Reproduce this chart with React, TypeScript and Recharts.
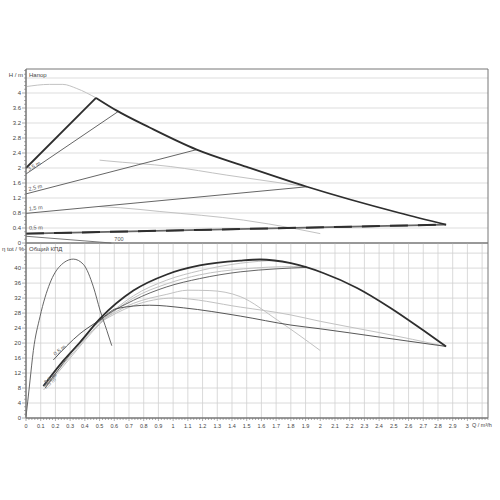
import React from "react";
import {
  ComposedChart,
  Line,
  XAxis,
  YAxis,
  CartesianGrid,
  ReferenceArea,
} from "recharts";

// flow axis, m³/h
const Q_MAX = 3.14;
const qLabelTicks = [
  0, 0.1, 0.2, 0.3, 0.4, 0.5, 0.6, 0.7, 0.8, 0.9, 1, 1.1, 1.2, 1.3, 1.4, 1.5,
  1.6, 1.7, 1.8, 1.9, 2, 2.1, 2.2, 2.3, 2.4, 2.5, 2.6, 2.7, 2.8, 2.9, 3,
];
const qGridLines = qLabelTicks.slice(1).concat([3.1]);

// head axis, m
const H_MAX = 4.64;
const hLabelTicks = [0, 0.4, 0.8, 1.2, 1.6, 2, 2.4, 2.8, 3.2, 3.6, 4];
const hGridLines = [0.4, 0.8, 1.2, 1.6, 2, 2.4, 2.8, 3.2, 3.6, 4, 4.4];

// efficiency axis, %
const E_MAX = 46.7;
const eLabelTicks = [0, 4, 8, 12, 16, 20, 24, 28, 32, 36, 40];
const eGridLines = [4, 8, 12, 16, 20, 24, 28, 32, 36, 40, 44];

// ---- head curves ----
const maxRiseQ = [0, 0.476];
const maxRiseH = [2.0, 3.87];
const maxFallQ = [0.476, 0.617, 0.84, 1.16, 1.5, 1.91, 2.54, 2.855];
const maxFallH = [3.87, 3.53, 3.08, 2.49, 2.03, 1.5, 0.8, 0.49];
const topGrayQ = [0, 0.16, 0.25, 0.345, 0.476];
const topGrayH = [4.17, 4.23, 4.23, 4.12, 3.87];
const dp35Q = [0, 0.628];
const dp35H = [1.84, 3.51];
const dp25Q = [0, 1.16];
const dp25H = [1.31, 2.49];
const dp15Q = [0, 1.91];
const dp15H = [0.79, 1.5];
const dp05Q = [0, 2.855];
const dp05H = [0.25, 0.49];
const grayBQ = [0.5, 0.55, 0.98, 1.365, 1.91];
const grayBH = [2.21, 2.19, 2.04, 1.81, 1.5];
const grayCQ = [0.5, 0.64, 0.91, 1.48, 1.82, 2.0];
const grayCH = [0.97, 0.94, 0.84, 0.61, 0.39, 0.25];
const powerQ = [0, 0.58];
const powerH = [0.18, 0];

// ---- efficiency curves ----
const peakEffQ = [0, 0.012, 0.027, 0.05, 0.095, 0.163, 0.23, 0.322, 0.39, 0.458, 0.503, 0.549, 0.583];
const peakEffE = [0.4, 4.5, 9.9, 18, 27, 36, 40.5, 42.4, 41, 35, 28.8, 23.4, 19.3];
const maxEffQ = [0.118, 0.254, 0.367, 0.503, 0.73, 0.957, 1.18, 1.456, 1.59, 1.8, 2.02, 2.25, 2.48, 2.7, 2.855];
const maxEffE = [8.5, 15.3, 20.2, 26.5, 34, 38.3, 40.7, 42.0, 42.3, 41.3, 38.7, 34.7, 29.3, 23.4, 19.1];
const effBQ = [0.13, 0.3, 0.5, 0.73, 0.957, 1.18, 1.456, 1.7];
const effBE = [8.5, 16.5, 25.3, 32.6, 36.8, 39.3, 41.3, 42.1];
const effCQ = [0.12, 0.3, 0.5, 0.73, 0.957, 1.18, 1.48, 1.82, 1.91];
const effCE = [7.5, 16, 25, 32, 35.8, 38.2, 39.8, 40.4, 40.3];
const effDQ = [0.13, 0.3, 0.503, 0.73, 0.957, 1.18, 1.456, 1.7, 1.91];
const effDE = [8, 17, 26, 31.4, 35, 37.2, 39, 39.8, 40.2];
const effEQ = [0.5, 0.73, 0.957, 1.1, 1.25, 1.456, 1.71, 2.0];
const effEE = [25.8, 30.6, 33, 34.1, 34, 32.4, 26.1, 18];
const effFQ = [0.5, 0.73, 1.0, 1.456, 1.8, 2.0, 2.4, 2.855];
const effFE = [25.5, 30, 32, 29.6, 27.5, 25.8, 22.8, 19.1];
const effGQ = [0.186, 0.367, 0.503, 0.616, 0.84, 1.07, 1.456, 1.8, 2.0, 2.4, 2.855];
const effGE = [15.5, 22.5, 26.2, 29.2, 30.1, 29.4, 27.2, 24.8, 23.8, 21.6, 19.1];

const pts = (q: number[], v: number[]) => q.map((x, i) => ({ q: x, v: v[i] }));

const minorSteps = (max: number, step: number) => {
  const out: number[] = [];
  for (let i = 0; i * step <= max + 1e-9; i++) out.push(Math.round(i * step * 1000) / 1000);
  return out;
};

const isIn = (list: number[], v: number) => list.some((t) => Math.abs(t - v) < 1e-6);
const fmt = (v: number) => String(Math.round(v * 10) / 10);

const FONT = "'Liberation Sans', Arial, sans-serif";
const TXT = "#444";

const YTick = ({ x, y, payload, labels }: any) => {
  const major = isIn(labels, payload.value);
  return (
    <g>
      <line x1={x} x2={x - (major ? 4 : 2)} y1={y} y2={y} stroke="#777" strokeWidth={0.6} />
      {major && (
        <text x={x - 5} y={y + 2} textAnchor="end" fontSize={6} fill={TXT} fontFamily={FONT}>
          {fmt(payload.value)}
        </text>
      )}
    </g>
  );
};

const XTick = ({ x, y, payload }: any) => {
  const major = isIn(qLabelTicks, payload.value);
  return (
    <g>
      <line x1={x} x2={x} y1={y} y2={y + (major ? 3 : 2)} stroke="#777" strokeWidth={0.6} />
      {major && (
        <text x={x} y={y + 10} textAnchor="middle" fontSize={5.5} fill={TXT} fontFamily={FONT}>
          {fmt(payload.value)}
        </text>
      )}
    </g>
  );
};

// small rotated tag at the first (or last) point of a curve
const tag = (text: string, angle: number, at: "start" | "end", dx: number, dy: number, color = "#555") =>
  (p: any) => {
    const n = p.index;
    const want = at === "start" ? n === 0 : n === 1;
    if (!want || p.x == null) return null;
    const tx = p.x + dx;
    const ty = p.y + dy;
    return (
      <text
        key={`t${n}`}
        x={tx}
        y={ty}
        fontSize={5.5}
        fill={color}
        fontFamily={FONT}
        transform={`rotate(${angle} ${tx} ${ty})`}
      >
        {text}
      </text>
    );
  };

const DARK = "#2e2e2e";
const MID = "#555";
const GRAY = "#c2c2c2";

const labelStyle: React.CSSProperties = {
  position: "absolute",
  fontFamily: FONT,
  fontSize: 6,
  color: TXT,
  whiteSpace: "nowrap",
  lineHeight: "6px",
};

export default function App() {
  const line = (key: string, data: any[], stroke: string, width: number, type: any = "monotone", extra: any = {}) => (
    <Line
      key={key}
      data={data}
      dataKey="v"
      type={type}
      stroke={stroke}
      strokeWidth={width}
      dot={false}
      activeDot={false}
      isAnimationActive={false}
      {...extra}
    />
  );

  return (
    <div style={{ position: "absolute", left: 0, top: 0, width: 500, height: 500, background: "#fff" }}>
      {/* head chart */}
      <div style={{ position: "absolute", left: 0, top: 0 }}>
        <ComposedChart width={500} height={250} margin={{ top: 69, right: 12, bottom: 7, left: 0 }}>
          <CartesianGrid vertical={false} horizontalValues={hGridLines} stroke="#d4d4d4" strokeWidth={0.8} />
          <XAxis dataKey="q" type="number" domain={[0, Q_MAX]} hide allowDuplicatedCategory={false} />
          <YAxis
            type="number"
            domain={[0, H_MAX]}
            ticks={minorSteps(4.6, 0.1)}
            interval={0}
            width={26}
            tickSize={0}
            tickMargin={0}
            tickLine={false}
            axisLine={{ stroke: "#777" }}
            tick={<YTick labels={hLabelTicks} />}
          />
          <ReferenceArea x1={0} x2={Q_MAX} y1={0} y2={H_MAX} fill="none" stroke="#777" strokeWidth={1} ifOverflow="visible" />
          {line("topGray", pts(topGrayQ, topGrayH), GRAY, 1)}
          {line("grayB", pts(grayBQ, grayBH), GRAY, 1)}
          {line("grayC", pts(grayCQ, grayCH), GRAY, 1)}
          {line("dp35", pts(dp35Q, dp35H), MID, 0.9, "linear", { label: tag("3,5 m", -30, "start", 3, -3) })}
          {line("dp25", pts(dp25Q, dp25H), MID, 0.9, "linear", { label: tag("2,5 m", -13, "start", 3, -3) })}
          {line("dp15", pts(dp15Q, dp15H), MID, 0.9, "linear", { label: tag("1,5 m", -5, "start", 3, -3) })}
          {line("dp05g", pts(dp05Q, dp05H), "#666", 2, "linear", { label: tag("0,5 m", -1, "start", 3, -4) })}
          {line("dp05", pts(dp05Q, dp05H), DARK, 2, "linear", { strokeDasharray: "18 10" })}
          {line("power", pts(powerQ, powerH), MID, 0.8, "linear", { label: tag("700", 0, "end", 3, -2) })}
          {line("maxRise", pts(maxRiseQ, maxRiseH), DARK, 1.8, "linear")}
          {line("maxFall", pts(maxFallQ, maxFallH), DARK, 1.8)}
        </ComposedChart>
      </div>

      {/* efficiency chart */}
      <div style={{ position: "absolute", left: 0, top: 236 }}>
        <ComposedChart width={500} height={200} margin={{ top: 7, right: 12, bottom: 3, left: 0 }}>
          <CartesianGrid horizontalValues={eGridLines} verticalValues={qGridLines} stroke="#d0d0d0" strokeWidth={0.8} />
          <XAxis
            dataKey="q"
            type="number"
            domain={[0, Q_MAX]}
            ticks={minorSteps(3.14, 0.02)}
            interval={0}
            height={15}
            tickSize={0}
            tickMargin={0}
            tickLine={false}
            axisLine={{ stroke: "#777" }}
            tick={<XTick />}
            allowDuplicatedCategory={false}
          />
          <YAxis
            type="number"
            domain={[0, E_MAX]}
            ticks={minorSteps(46, 1)}
            interval={0}
            width={26}
            tickSize={0}
            tickMargin={0}
            tickLine={false}
            axisLine={{ stroke: "#777" }}
            tick={<YTick labels={eLabelTicks} />}
          />
          <ReferenceArea x1={0} x2={Q_MAX} y1={0} y2={E_MAX} fill="none" stroke="#777" strokeWidth={1} ifOverflow="visible" />
          {line("effE", pts(effEQ, effEE), GRAY, 1)}
          {line("effF", pts(effFQ, effFE), GRAY, 1)}
          {line("effB", pts(effBQ, effBE), GRAY, 1, "monotone", { label: tag("3,5 m", -40, "start", 1, -2, "#888") })}
          {line("effC", pts(effCQ, effCE), GRAY, 1, "monotone", { label: tag("2,5 m", -40, "start", 2, -1, "#888") })}
          {line("effD", pts(effDQ, effDE), MID, 0.9, "monotone", { label: tag("1,5 m", -40, "start", 1, -3, "#666") })}
          {line("effG", pts(effGQ, effGE), "#444", 0.9, "monotone", { label: tag("0,5 m", -38, "start", 2, -4) })}
          {line("peakEff", pts(peakEffQ, peakEffE), MID, 0.9)}
          {line("maxEff", pts(maxEffQ, maxEffE), DARK, 1.8)}
        </ComposedChart>
      </div>

      <div style={{ ...labelStyle, left: 0, width: 23, textAlign: "right", top: 72 }}>H / m</div>
      <div style={{ ...labelStyle, left: 29, top: 72 }}>Напор</div>
      <div style={{ ...labelStyle, left: 0, width: 24, textAlign: "right", top: 246 }}>η tot / %</div>
      <div style={{ ...labelStyle, left: 29, top: 246 }}>Общий КПД</div>
      <div style={{ ...labelStyle, left: 472, top: 422, fontSize: 5.5 }}>Q / m³/h</div>
    </div>
  );
}
